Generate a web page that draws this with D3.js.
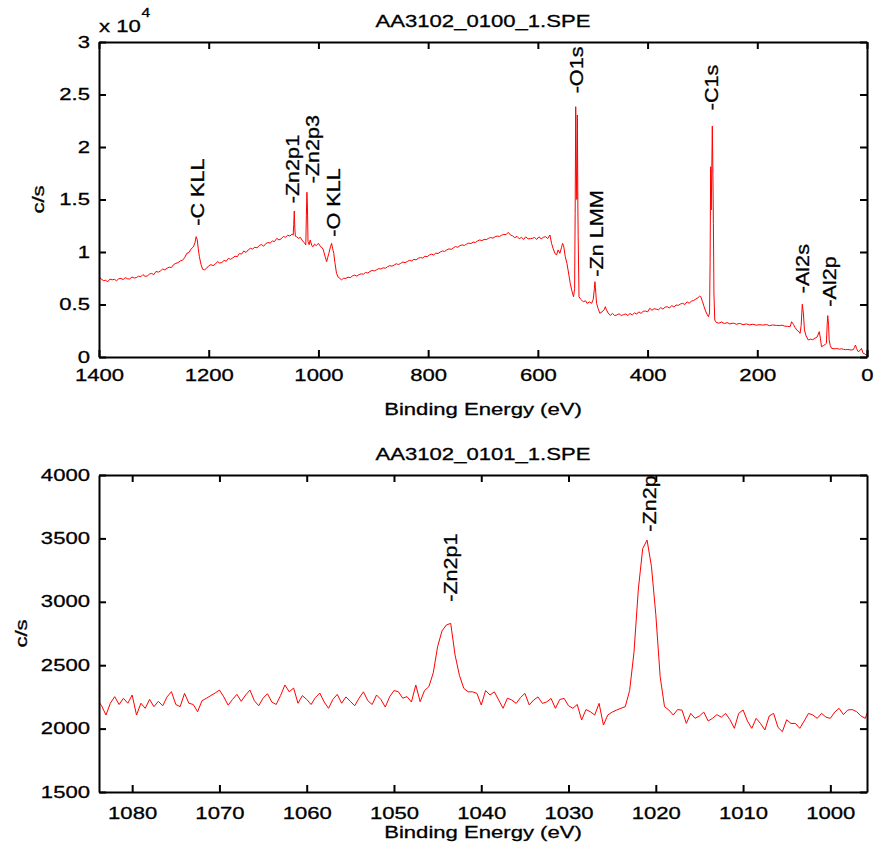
<!DOCTYPE html>
<html><head><meta charset="utf-8">
<script src="https://cdn.jsdelivr.net/npm/d3@7"></script>
<style>
html,body{margin:0;padding:0;background:#fff;}
svg{display:block;}
text{font-family:"Liberation Sans",Arial,Helvetica,sans-serif;fill:#000;stroke:#000;stroke-width:0.3px;}
</style></head><body>
<svg id="chart" width="874" height="856"></svg>
<script>
// ---------------- data ----------------
const surveyTitle = "AA3102_0100_1.SPE";
const detailTitle = "AA3102_0101_1.SPE";
const xLabel = "Binding Energy (eV)";
const yLabel = "c/s";
const surveyExponent = "4";

// survey spectrum: [binding energy (eV), counts per second]
const survey = [
[1400,7650],[1396,7420],[1392,7280],[1388,7300],[1384,7170],[1380,7420],[1376,7350],[1372,7400],[1368,7260],[1364,7450],
[1360,7480],[1356,7380],[1352,7560],[1348,7450],[1344,7430],[1340,7620],[1336,7520],[1332,7560],[1328,7700],[1324,7640],
[1320,7850],[1316,7680],[1312,7720],[1308,7900],[1304,7960],[1300,7850],[1296,8150],[1292,8080],[1288,8200],[1284,8380],
[1280,8300],[1276,8450],[1272,8560],[1268,8520],[1264,8800],[1260,8920],[1256,8980],[1252,9150],[1248,9200],[1244,9450],
[1240,9870],[1236,9950],[1232,10300],[1228,10480],[1225,10900],[1223,11460],[1221,11200],[1219,10300],[1217,9550],[1214,8800],
[1211,8350],[1208,8290],[1204,8450],[1200,8680],[1196,8800],[1192,8700],[1188,8850],[1184,9080],[1180,8950],[1176,9000],
[1172,9200],[1168,9120],[1164,9400],[1160,9300],[1156,9450],[1152,9600],[1148,9550],[1144,9850],[1140,9800],[1136,10100],
[1132,9950],[1128,10200],[1124,10350],[1120,10280],[1116,10450],[1112,10400],[1108,10600],[1104,10720],[1100,10550],[1096,10800],
[1092,10900],[1088,10850],[1084,11050],[1080,11000],[1076,11300],[1072,11150],[1068,11250],[1064,11480],[1060,11400],[1056,11600],
[1052,11520],[1048,11700],[1046,11620],[1045,12600],[1044,13900],[1043,12200],[1042,11500],[1040,11460],[1036,11300],[1033,11400],
[1030,11140],[1026,10900],[1023,10670],[1022,13500],[1021,15690],[1020,14200],[1019,11000],[1017,10700],[1015,11140],[1012,10600],
[1010,10500],[1007,10750],[1004,10600],[1000,10820],[996,10500],[993,10400],[991,10190],[988,9600],[985,9080],[983,9500],
[981,9870],[978,10500],[976,10820],[974,10300],[972,9870],[970,9000],[967,7970],[964,7600],[961,7490],[958,7350],
[954,7500],[950,7480],[946,7600],[942,7550],[938,7720],[934,7800],[930,7700],[926,7850],[922,7920],[918,7880],
[914,8050],[910,8000],[906,8150],[902,8250],[898,8200],[894,8300],[890,8420],[886,8380],[882,8500],[878,8450],
[874,8600],[870,8700],[866,8650],[862,8760],[858,8880],[854,8800],[850,8920],[846,9050],[842,8980],[838,9100],
[834,9200],[830,9150],[826,9300],[822,9250],[818,9400],[814,9480],[810,9420],[806,9600],[802,9550],[798,9700],
[794,9800],[790,9720],[786,9900],[782,9850],[778,10000],[774,10100],[770,10050],[766,10200],[762,10300],[758,10250],
[754,10400],[750,10520],[746,10450],[742,10600],[738,10680],[734,10620],[730,10750],[726,10850],[722,10800],[718,10950],
[714,10900],[710,11050],[706,11150],[702,11080],[698,11200],[694,11180],[690,11300],[686,11380],[682,11320],[678,11450],
[674,11520],[670,11480],[666,11600],[662,11680],[658,11650],[654,11870],[650,11620],[646,11540],[642,11360],[638,11490],
[634,11260],[630,11400],[626,11200],[622,11450],[618,11250],[614,11260],[610,11300],[606,11380],[602,11200],[598,11450],
[594,11250],[590,11400],[586,11460],[582,11280],[578,11620],[575,10820],[572,10300],[569,9900],[566,9710],[563,10200],
[560,9870],[557,10400],[555,10820],[553,10600],[550,9550],[547,8920],[544,8000],[541,7020],[538,6300],[535,5740],
[533,6500],[532,13690],[531,23840],[530,18000],[529,15000],[528,23050],[527,14000],[526.5,11460],[525,5740],[522,5500],
[519,5350],[517,5270],[513,5350],[510,5100],[506,5250],[502,5110],[499,5500],[497,6500],[496,7170],[495,6600],
[493,5110],[490,4600],[487,4160],[483,4300],[479,4500],[477,4790],[475,4500],[472,4200],[468,3950],[464,4150],
[460,3950],[456,4000],[452,4120],[448,3950],[444,4030],[440,4100],[436,3950],[432,4150],[428,4000],[424,4200],
[420,4080],[416,4300],[412,4150],[408,4350],[404,4380],[400,4300],[396,4640],[392,4450],[388,4600],[384,4550],
[380,4500],[376,4700],[372,4560],[368,4750],[364,4790],[360,4660],[356,4900],[352,4760],[348,4950],[344,4920],
[340,5050],[336,5110],[332,5000],[328,5250],[324,5120],[320,5330],[316,5380],[312,5520],[308,5650],[305,5800],
[303,5740],[300,5300],[297,4800],[295,4480],[292,4100],[289,3840],[287,4200],[286,9000],[285,18120],[284,14000],
[283,17500],[282,22000],[281,18000],[280,12730],[279,6000],[277.5,3520],[275,3300],[270,3220],[265,3330],[260,3180],
[255,3280],[250,3150],[244,3230],[238,3120],[232,3200],[226,3080],[220,3150],[214,3060],[208,3120],[202,3030],
[195,3080],[190,3040],[183,3090],[178,2980],[172,3050],[165,3010],[160,2990],[155,3030],[150,2940],[145,2920],
[140,2890],[137.5,3360],[134,3100],[131,2800],[128,2570],[124,2400],[122,2250],[120,3000],[118,5020],[116,4200],
[114,2570],[111,2000],[107,1620],[103,1700],[99,1650],[95,1780],[91,1900],[87,2410],[85,1800],[83,980],
[79,1100],[76,1200],[74,1300],[72.5,3200],[71.5,3940],[70,3000],[69,1620],[67,1100],[64.5,820],[60,780],
[55,800],[50,750],[46,780],[43,730],[39,700],[35,720],[31,680],[28,670],[25,700],[23,900],
[21,1140],[19,800],[16,510],[13,600],[10,820],[7,350],[4,300],[2,190],[0,200]
];

const surveyPeaks = ["-C KLL","-Zn2p1","-Zn2p3","-O KLL","-O1s","-Zn LMM","-C1s","-Al2s","-Al2p"];
const surveyPeakEnergy = [1220.5,1046.4,1010,971.6,529,492.8,282.6,116.7,67.5];
const surveyPeakLevel = [12500,14640,16540,11460,25110,7650,23500,6070,4790];

// Zn 2p detail spectrum: counts starting at detailStart eV, every detailStep eV (decreasing)
const detailStart = 1084.0;
const detailStep = 0.5;
const detailCounts = [
2230,2180,2107,2200,2252,2190,2239,2200,2265,2107,  // 1084.0 - 1079.5
2200,2160,2230,2173,2215,2180,2250,2291,2190,2173,  // 1079.0 - 1074.5
2278,2200,2190,2133,2220,2239,2260,2280,2304,2250,  // 1074.0 - 1069.5
2185,2230,2270,2215,2265,2304,2220,2180,2240,2275,  // 1069.0 - 1064.5
2210,2190,2260,2344,2290,2320,2200,2260,2230,2190,  // 1064.0 - 1059.5
2245,2280,2210,2160,2230,2270,2200,2250,2215,2180,  // 1059.0 - 1054.5
2240,2290,2220,2190,2265,2230,2170,2250,2300,2291,  // 1054.0 - 1049.5
2240,2252,2210,2344,2212,2300,2331,2440,2646,2770,  // 1049.0 - 1044.5
2817,2830,2580,2420,2317,2290,2290,2278,2186,2300,  // 1044.0 - 1039.5
2265,2290,2225,2160,2240,2225,2199,2245,2278,2186,  // 1039.0 - 1034.5
2225,2250,2199,2210,2238,2160,2230,2238,2180,2160,  // 1034.0 - 1029.5
2190,2068,2150,2133,2107,2199,2028,2107,2130,2146,  // 1029.0 - 1024.5
2160,2173,2300,2600,3100,3420,3487,3280,2900,2410,  // 1024.0 - 1019.5
2173,2146,2107,2150,2146,2041,2120,2081,2100,2130,  // 1019.0 - 1014.5
2060,2081,2110,2090,2120,2070,2002,2120,2147,2060,  // 1014.0 - 1009.5
2002,2081,2040,1989,2100,2120,2010,1976,2070,2040,  // 1009.0 - 1004.5
2041,2002,2060,2120,2107,2081,2120,2090,2081,2130,  // 1004.0 - 999.5
2160,2110,2147,2150,2134,2100,2081,2173             // 999.0 - 995.5
];

const detailPeaks = ["-Zn2p1","-Zn2p3"];
const detailPeakEnergy = [1043.5,1020.7];
const detailPeakLevel = [3000,3553];

const surveyXTicks = [1400,1200,1000,800,600,400,200,0];
const surveyYTicks = [0,5000,10000,15000,20000,25000,30000];
const surveyYTickLabels = ["0","0.5","1","1.5","2","2.5","3"];
const detailXTicks = [1080,1070,1060,1050,1040,1030,1020,1010,1000];
const detailYTicks = [1500,2000,2500,3000,3500,4000];
const detailYTickLabels = ["1500","2000","2500","3000","3500","4000"];

// ---------------- drawing ----------------
const svg = d3.select("#chart");
const FS = 17, SX = 1.3;
const LINE = "#ff0000";

function panel(o) {
  const x = d3.scaleLinear().domain(o.xDomain).range([o.left, o.right]);
  const y = d3.scaleLinear().domain(o.yDomain).range([o.bottom, o.top]);
  const g = svg.append("g");
  const cid = "clip" + o.id;
  g.append("clipPath").attr("id", cid).append("rect")
    .attr("x", o.left).attr("y", o.top)
    .attr("width", o.right - o.left).attr("height", o.bottom - o.top);

  g.append("path").datum(o.points)
    .attr("clip-path", `url(#${cid})`)
    .attr("fill", "none").attr("stroke", LINE).attr("stroke-width", 1)
    .attr("stroke-linejoin", "round")
    .attr("d", d3.line().x(d => x(d[0])).y(d => y(d[1])));

  // peak labels
  const lab = g.append("g").attr("clip-path", `url(#${cid})`);
  o.peaks.forEach((name, i) => {
    lab.append("text")
      .attr("transform", `translate(${x(o.peakE[i])},${y(o.peakL[i])}) rotate(-90) scale(1.2,1)`)
      .attr("text-anchor", "start").attr("dominant-baseline", "central")
      .style("font-size", "18px").text(name);
  });

  const T = 7;
  const ax = (gen, tr) => {
    const a = g.append("g").attr("transform", tr).call(gen);
    a.selectAll("path.domain").attr("stroke", "#000").attr("stroke-width", 2);
    a.selectAll(".tick line").attr("stroke", "#000").attr("stroke-width", 2);
    return a;
  };
  const bx = ax(d3.axisBottom(x).tickValues(o.xTicks).tickSize(-T).tickSizeOuter(0).tickFormat(d3.format("d")),
    `translate(0,${o.bottom})`);
  bx.selectAll("text").attr("y", o.xTickBase).attr("dy", null)
    .attr("transform", `scale(${SX},1)`).style("font-size", FS + "px");
  ax(d3.axisTop(x).tickValues(o.xTicks).tickSize(-T).tickSizeOuter(0).tickFormat(""),
    `translate(0,${o.top})`);
  const ly = ax(d3.axisLeft(y).tickValues(o.yTicks).tickSize(-T).tickSizeOuter(0)
    .tickFormat((d, i) => o.yTickLabels[i]), `translate(${o.left},0)`);
  ly.selectAll("text").attr("x", -9 / SX).attr("dy", "0.3em")
    .attr("transform", `scale(${SX},1)`).style("font-size", FS + "px");
  ax(d3.axisRight(y).tickValues(o.yTicks).tickSize(-T).tickSizeOuter(0).tickFormat(""),
    `translate(${o.right},0)`);
  svg.selectAll(".tick text").attr("fill", "#000");

  const mid = (o.left + o.right) / 2;
  svg.append("text").attr("transform", `translate(${mid},${o.titleBase}) scale(${SX},1)`)
    .attr("text-anchor", "middle").style("font-size", FS + "px").text(o.title);
  svg.append("text").attr("transform", `translate(${mid},${o.xLabelBase}) scale(${SX},1)`)
    .attr("text-anchor", "middle").style("font-size", FS + "px").text(xLabel);
  svg.append("text").attr("transform", `translate(${o.yLabelX},${(o.top + o.bottom) / 2}) rotate(-90) scale(${SX},1)`)
    .attr("text-anchor", "middle").style("font-size", FS + "px").text(yLabel);
  return {x, y};
}

panel({
  id: "A", left: 99, right: 867, top: 42, bottom: 357,
  xDomain: [1400, 0], yDomain: [0, 30000], points: survey,
  xTicks: surveyXTicks, yTicks: surveyYTicks, yTickLabels: surveyYTickLabels,
  peaks: surveyPeaks, peakE: surveyPeakEnergy, peakL: surveyPeakLevel,
  xTickBase: 24, title: surveyTitle, titleBase: 27, xLabelBase: 414.5, yLabelX: 43.5
});

const detailPoints = detailCounts.map((c, i) => [detailStart - i * detailStep, c]);
panel({
  id: "B", left: 99, right: 867, top: 475, bottom: 792,
  xDomain: [1083.8, 995.8], yDomain: [1500, 4000], points: detailPoints,
  xTicks: detailXTicks, yTicks: detailYTicks, yTickLabels: detailYTickLabels,
  peaks: detailPeaks, peakE: detailPeakEnergy, peakL: detailPeakLevel,
  xTickBase: 27.5, title: detailTitle, titleBase: 460, xLabelBase: 838, yLabelX: 27
});

// exponent label of the survey y axis
svg.append("text").attr("transform", `translate(99,31.7) scale(${SX},1)`)
  .style("font-size", FS + "px").text("x 10");
svg.append("text").attr("transform", `translate(141.5,16.5) scale(${SX},1)`)
  .style("font-size", "12px").text(surveyExponent);
</script>
</body></html>
